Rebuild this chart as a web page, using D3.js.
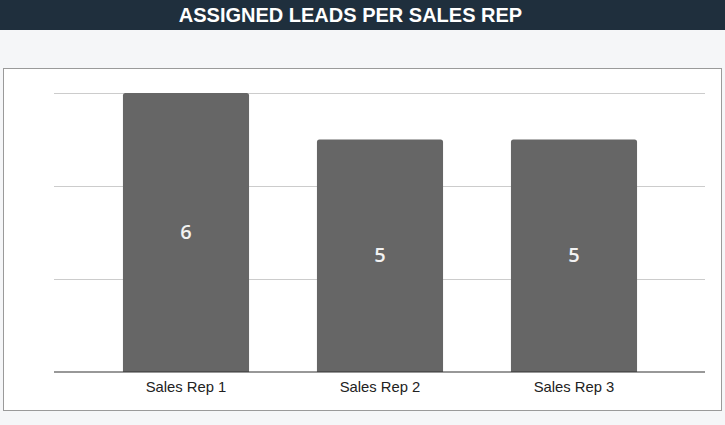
<!DOCTYPE html>
<html>
<head>
<meta charset="utf-8">
<script src="https://cdn.jsdelivr.net/npm/d3@7"></script>
<style>
  html, body { margin: 0; padding: 0; background: #f5f6f8; }
  svg { display: block; }
</style>
</head>
<body>
<svg id="chart" width="725" height="425"></svg>
<script>
const title = "ASSIGNED LEADS PER SALES REP";
const categories = ["Sales Rep 1", "Sales Rep 2", "Sales Rep 3"];
const values = [6, 5, 5];
const gridTicks = [2, 4, 6];

const svg = d3.select("#chart");
const W = 725, H = 425;

svg.append("rect").attr("x", 0).attr("y", 0).attr("width", W).attr("height", H).attr("fill", "#f5f6f8");
svg.append("rect").attr("x", 0).attr("y", 0).attr("width", W).attr("height", 30).attr("fill", "#1f2f3d");
svg.append("text")
  .attr("x", 350.5).attr("y", 21.5)
  .attr("text-anchor", "middle")
  .attr("font-family", "Liberation Sans, Arial, sans-serif")
  .attr("font-weight", "bold")
  .attr("font-size", 20)
  .attr("fill", "#ffffff")
  .text(title);

// panel
svg.append("rect")
  .attr("x", 3.5).attr("y", 68.5).attr("width", 718).attr("height", 342)
  .attr("fill", "#ffffff").attr("stroke", "#9a9a9a").attr("stroke-width", 1);

const plotL = 54, plotR = 705;
const y = d3.scaleLinear().domain([0, 6]).range([372, 93]);
const x = d3.scaleBand().domain(categories).range([89, 671]).paddingInner(0.35).paddingOuter(0.175);

// gridlines
svg.append("g").selectAll("line").data(gridTicks).join("line")
  .attr("x1", plotL).attr("x2", plotR)
  .attr("y1", d => Math.round(y(d)) + 0.5).attr("y2", d => Math.round(y(d)) + 0.5)
  .attr("stroke", "#cccccc").attr("stroke-width", 1);

// bars (rounded top corners)
function barPath(x0, y0, w, h, r) {
  return `M${x0},${y0 + h}V${y0 + r}Q${x0},${y0} ${x0 + r},${y0}H${x0 + w - r}Q${x0 + w},${y0} ${x0 + w},${y0 + r}V${y0 + h}Z`;
}
svg.append("g").selectAll("path").data(values).join("path")
  .attr("d", (d, i) => barPath(x(categories[i]), y(d), x.bandwidth(), y(0) - y(d), 2.5))
  .attr("fill", "#666666");

// value labels
svg.append("g").selectAll("text").data(values).join("text")
  .attr("x", (d, i) => x(categories[i]) + x.bandwidth() / 2)
  .attr("y", d => (y(d) + y(0)) / 2 - 1)
  .attr("dy", "0.36em")
  .attr("text-anchor", "middle")
  .attr("font-family", "Open Sans, Noto Sans, sans-serif")
  .attr("font-weight", 600)
  .attr("font-size", 20)
  .attr("fill", "#f2f2f2")
  .text(d => d);

// baseline
svg.append("line")
  .attr("x1", plotL).attr("x2", plotR)
  .attr("y1", 372).attr("y2", 372)
  .attr("stroke", "#333333").attr("stroke-width", 1.2);

// x axis labels
const xAxis = d3.axisBottom(x).tickSize(0).tickPadding(0);
const gx = svg.append("g").attr("transform", "translate(0,372)").call(xAxis);
gx.select(".domain").remove();
gx.selectAll("text")
  .attr("y", 20).attr("dy", 0)
  .attr("font-family", "Liberation Sans, Arial, sans-serif")
  .attr("font-size", 14.8)
  .attr("fill", "#222222");
</script>
</body>
</html>
